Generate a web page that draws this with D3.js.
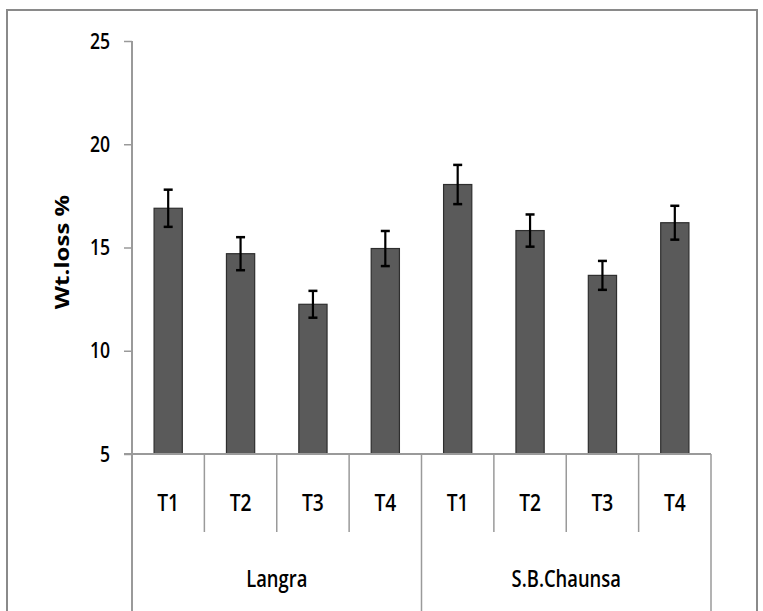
<!DOCTYPE html>
<html><head><meta charset="utf-8">
<script src="https://cdn.jsdelivr.net/npm/d3@7"></script>
<style>
html,body{margin:0;padding:0;background:#fff;}
text{font-family:"Open Sans","Noto Sans","Liberation Sans",sans-serif;fill:#000;font-weight:600;}
</style></head>
<body><svg id="c" width="763" height="611"></svg>
<script>
const groups = ["Langra", "S.B.Chaunsa"];
const treatments = ["T1", "T2", "T3", "T4"];
const values = [16.9, 14.7, 12.25, 14.95, 18.05, 15.82, 13.65, 16.2];
const errors = [0.9, 0.8, 0.65, 0.85, 0.95, 0.78, 0.7, 0.82];
const yTicks = [5, 10, 15, 20, 25];
const yLabel = "Wt.loss %";

(function () {
const svg = d3.select("#c");
const W = 763, H = 611;
const xLeft = 132, xRight = 711, yTop = 41, base = 454;
const squeeze = 0.8;

svg.append("rect").attr("x", 7).attr("y", 10).attr("width", 750).attr("height", 620)
  .attr("fill", "none").attr("stroke", "#8a8a8a").attr("stroke-width", 2);

const items = [];
groups.forEach((g, gi) => treatments.forEach((t, ti) => items.push({g, t, i: gi * treatments.length + ti})));

const x = d3.scaleBand().domain(items.map(d => d.i)).range([xLeft, xRight]).padding(0);
const xg = d3.scaleBand().domain(groups).range([xLeft, xRight]).padding(0);
const y = d3.scaleLinear().domain([5, 25]).range([base, yTop]);

const axisColor = "#9a9a9a";

const yAxis = svg.append("g").attr("transform", `translate(${xLeft},0)`)
  .call(d3.axisLeft(y).tickValues(yTicks).tickSize(8).tickPadding(6).tickFormat(d3.format("d")));
yAxis.select(".domain").remove();
yAxis.selectAll(".tick line").attr("stroke", axisColor).attr("stroke-width", 1.5);
yAxis.selectAll(".tick text").style("font-size", "22px").attr("fill", "#000")
  .attr("x", 0).attr("transform", `translate(-22,0) scale(${squeeze},1)`);
svg.append("line").attr("x1", xLeft).attr("x2", xLeft).attr("y1", yTop).attr("y2", H)
  .attr("stroke", axisColor).attr("stroke-width", 2);

svg.append("text").attr("transform", `translate(62,252) rotate(-90) scale(1,0.78)`)
  .attr("text-anchor", "middle").attr("dominant-baseline", "central")
  .style("font-size", "24px").style("font-weight", "bold")
  .text(yLabel);

const bw = x.bandwidth() * 0.39;
svg.append("g").selectAll("rect").data(items).join("rect")
  .attr("x", d => x(d.i) + x.bandwidth() / 2 - bw / 2)
  .attr("y", d => y(values[d.i]))
  .attr("width", bw)
  .attr("height", d => y(5) - y(values[d.i]))
  .attr("fill", "#5a5a5a").attr("stroke", "#2e2e2e").attr("stroke-width", 1.2);

const eb = svg.append("g").attr("stroke", "#000").attr("stroke-width", 2.2);
items.forEach(d => {
  const cx = x(d.i) + x.bandwidth() / 2;
  const v = values[d.i], e = errors[d.i];
  eb.append("line").attr("x1", cx).attr("x2", cx).attr("y1", y(v + e)).attr("y2", y(v - e));
  eb.append("line").attr("x1", cx - 4.5).attr("x2", cx + 4.5).attr("y1", y(v + e)).attr("y2", y(v + e)).attr("stroke-width", 2.5);
  eb.append("line").attr("x1", cx - 4.5).attr("x2", cx + 4.5).attr("y1", y(v - e)).attr("y2", y(v - e)).attr("stroke-width", 2.5);
});

svg.append("line").attr("x1", xLeft - 8).attr("x2", xRight).attr("y1", base).attr("y2", base)
  .attr("stroke", axisColor).attr("stroke-width", 2);

items.forEach(d => {
  if (d.i === 0) return;
  const xx = x(d.i);
  const isGroup = d.i % treatments.length === 0;
  svg.append("line").attr("x1", xx).attr("x2", xx).attr("y1", base).attr("y2", isGroup ? H : 532)
    .attr("stroke", axisColor).attr("stroke-width", 1.5);
});
svg.append("line").attr("x1", xRight).attr("x2", xRight).attr("y1", base).attr("y2", H)
  .attr("stroke", axisColor).attr("stroke-width", 1.5);

svg.append("g").selectAll("text").data(items).join("text")
  .attr("transform", d => `translate(${x(d.i) + x.bandwidth() / 2},502) scale(${squeeze},1)`)
  .attr("text-anchor", "middle").attr("dominant-baseline", "central")
  .style("font-size", "24px").text(d => d.t);

svg.append("g").selectAll("text").data(groups).join("text")
  .attr("transform", d => `translate(${xg(d) + xg.bandwidth() / 2},578) scale(${squeeze},1)`)
  .attr("text-anchor", "middle").attr("dominant-baseline", "central")
  .style("font-size", "23px").text(d => d);
})();
</script></body></html>
